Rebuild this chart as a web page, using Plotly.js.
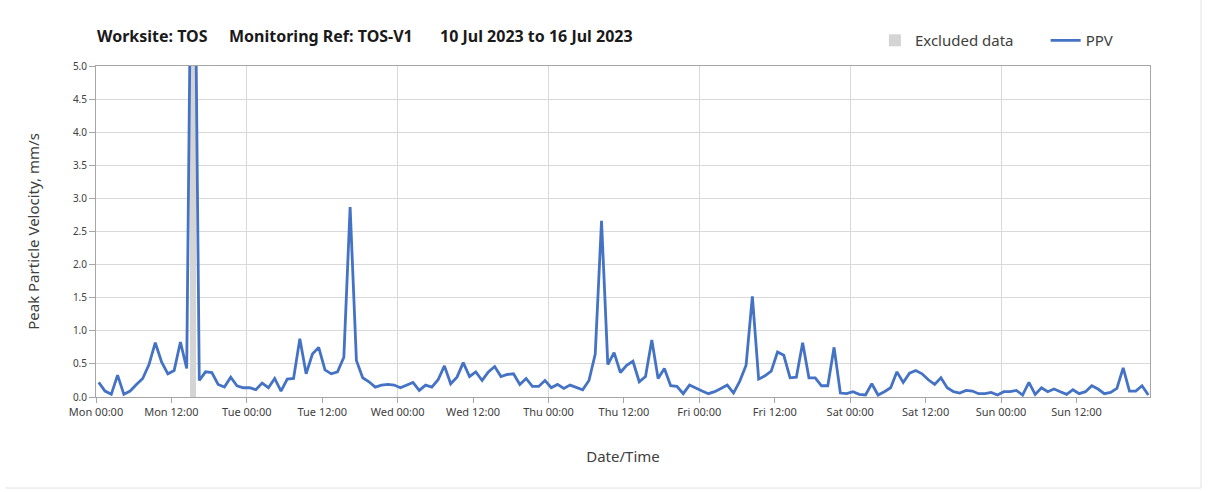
<!DOCTYPE html>
<html>
<head>
<meta charset="utf-8">
<script src="https://cdn.plot.ly/plotly-3.0.1.min.js"></script>
<style>
html,body{margin:0;padding:0;background:#fff;}
#chart{width:1208px;height:492px;}
</style>
</head>
<body>
<div id="chart"></div>
<script>
// ---- data (hourly PPV readings, mm/s) ----
const startTime = '2023-07-10 00:26';
const stepHours = 1;
const ppv = [
  0.22,0.09,0.04,0.33,0.04,0.09,0.19,0.28,0.49,0.82,0.53,0.35,0.40,0.83,0.43,10.0,
  0.25,0.38,0.37,0.19,0.15,0.30,0.17,0.14,0.14,0.11,0.21,0.14,0.28,0.09,0.27,0.28,
  0.88,0.35,0.65,0.75,0.41,0.35,0.38,0.60,2.87,0.55,0.29,0.23,0.15,0.18,0.19,0.18,
  0.14,0.18,0.22,0.10,0.18,0.15,0.26,0.47,0.20,0.30,0.52,0.31,0.38,0.25,0.38,0.46,
  0.31,0.34,0.35,0.19,0.28,0.16,0.16,0.25,0.14,0.19,0.13,0.18,0.15,0.11,0.25,0.65,
  2.66,0.49,0.67,0.37,0.48,0.54,0.23,0.31,0.86,0.28,0.43,0.17,0.16,0.05,0.18,0.13,
  0.09,0.05,0.08,0.13,0.18,0.06,0.24,0.48,1.52,0.27,0.32,0.39,0.68,0.63,0.29,0.30,
  0.82,0.29,0.29,0.17,0.17,0.75,0.06,0.05,0.08,0.04,0.03,0.20,0.03,0.08,0.14,0.38,
  0.22,0.36,0.40,0.35,0.26,0.19,0.29,0.14,0.08,0.06,0.10,0.09,0.05,0.05,0.07,0.03,
  0.08,0.08,0.10,0.03,0.22,0.04,0.14,0.08,0.12,0.08,0.04,0.11,0.05,0.08,0.17,0.12,
  0.05,0.07,0.13,0.44,0.09,0.09,0.17,0.03
];
const excludedTimes = ['2023-07-10 15:26'];
const excludedHeights = [5.0];
const yTickVals = [0,0.5,1,1.5,2,2.5,3,3.5,4,4.5,5];
const titleParts = ['Worksite: TOS', 'Monitoring Ref: TOS-V1', '10 Jul 2023 to 16 Jul 2023'];
const legendNames = ['Excluded data', 'PPV'];
const axisTitles = {x: 'Date/Time', y: 'Peak Particle Velocity, mm/s'};
const xRange = ['2023-07-10 00:00', '2023-07-16 23:42'];

// ---- build time axis values ----
function fmt(ms){ return new Date(ms).toISOString().slice(0,16).replace('T',' '); }
const t0 = Date.parse(startTime.replace(' ','T') + ':00Z');
const times = ppv.map((_, i) => fmt(t0 + i * stepHours * 3600000));

const traces = [
  {
    type: 'bar', name: legendNames[0], x: excludedTimes, y: excludedHeights,
    width: 3600000, marker: {color: '#d4d4d4', line: {width: 0}},
    hoverinfo: 'skip', legend: 'legend'
  },
  {
    type: 'scatter', mode: 'lines', name: legendNames[1], x: times, y: ppv,
    line: {color: '#4472c4', width: 2.8}, legend: 'legend2'
  },
  {
    type: 'scatter', mode: 'lines', x: xRange, y: [null, null], xaxis: 'x2',
    showlegend: false, hoverinfo: 'skip'
  }
];

const fontMain = '"Noto Sans", "Open Sans", sans-serif';
const legendFont = {family: fontMain, size: 15, color: '#404040'};
const layout = {
  width: 1208, height: 492,
  margin: {l: 96, r: 58, t: 66, b: 95},
  paper_bgcolor: '#ffffff', plot_bgcolor: '#ffffff',
  showlegend: true,
  legend: {
    orientation: 'h', x: 0.739, xanchor: 'left', y: 1.027, yanchor: 'bottom',
    font: legendFont, bgcolor: 'rgba(0,0,0,0)'
  },
  legend2: {
    orientation: 'h', x: 0.901, xanchor: 'left', y: 1.027, yanchor: 'bottom',
    font: legendFont, bgcolor: 'rgba(0,0,0,0)'
  },
  xaxis: {
    type: 'date', range: xRange, tick0: '2023-07-10 00:00', dtick: 43200000,
    tickformat: '%a %H:%M', showgrid: false, zeroline: false,
    showline: true, mirror: true, linecolor: '#a6a6a6', linewidth: 1,
    ticks: 'outside', ticklen: 5, tickcolor: '#a6a6a6',
    tickfont: {family: fontMain, size: 11, color: '#404040'},
    title: {text: axisTitles.x, font: {family: fontMain, size: 15, color: '#404040'}, standoff: 33}
  },
  xaxis2: {
    type: 'date', overlaying: 'x', matches: 'x', range: xRange,
    tick0: '2023-07-10 00:00', dtick: 86400000,
    showgrid: true, gridcolor: '#d9d9d9', gridwidth: 1,
    showticklabels: false, ticks: '', showline: false, zeroline: false
  },
  yaxis: {
    range: [0, 5], tickvals: yTickVals, tickformat: '.1f',
    showgrid: true, gridcolor: '#d9d9d9', gridwidth: 1, zeroline: false,
    showline: true, mirror: true, linecolor: '#a6a6a6', linewidth: 1,
    ticks: 'outside', ticklen: 6, tickcolor: '#a6a6a6',
    tickfont: {family: fontMain, size: 10, color: '#404040'},
    title: {text: axisTitles.y, font: {family: fontMain, size: 15, color: '#404040'}, standoff: 29}
  },
  bargap: 0,
  shapes: [
    {type: 'line', xref: 'paper', yref: 'paper', x0: 1.0484, x1: 1.0484, y0: -0.275, y1: 1.2, line: {color: '#e3e3e3', width: 1}},
    {type: 'line', xref: 'paper', yref: 'paper', x0: -0.0863, x1: 1.0484, y0: -0.275, y1: -0.275, line: {color: '#e3e3e3', width: 1}}
  ],
  annotations: [
    {text: '<b>' + titleParts[0] + '</b>', xref: 'paper', yref: 'paper', x: -0.001, y: 1.09, xanchor: 'left', yanchor: 'middle', showarrow: false, font: {family: fontMain, size: 16, color: '#1a1a1a'}},
    {text: '<b>' + titleParts[1] + '</b>', xref: 'paper', yref: 'paper', x: 0.1245, y: 1.09, xanchor: 'left', yanchor: 'middle', showarrow: false, font: {family: fontMain, size: 16, color: '#1a1a1a'}},
    {text: '<b>' + titleParts[2] + '</b>', xref: 'paper', yref: 'paper', x: 0.3245, y: 1.09, xanchor: 'left', yanchor: 'middle', showarrow: false, font: {family: fontMain, size: 16, color: '#1a1a1a'}}
  ]
};

Plotly.newPlot('chart', traces, layout, {displayModeBar: false, staticPlot: true});
</script>
</body>
</html>
